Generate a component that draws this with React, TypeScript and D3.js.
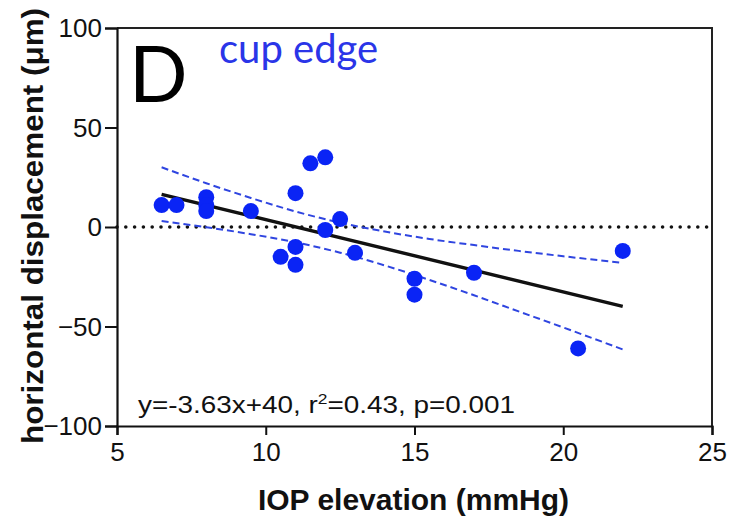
import React, { useEffect, useRef } from "react";
import * as d3 from "d3";

// IOP elevation (mmHg) vs horizontal displacement (µm), cup edge
const iopValues = [6.5, 7, 8, 8, 8, 9.5, 11, 11.5, 12, 12.5, 12, 11, 10.5, 11, 13, 15, 15, 17, 20.5, 22];
const displacementValues = [11, 11, 15, 11, 8, 8, 17, 32, 35, 4, -1.5, -10, -15, -19, -13, -26, -34, -23, -61, -12];

// linear fit, y = slope * x + intercept
const fitSlope = -3.63;
const fitIntercept = 40;
const fitRange = [6.5, 22];

// 95% confidence band
const bandX = [6.5, 8, 9.5, 11, 12.5, 14, 15.5, 17, 18.5, 20, 22];
const bandUpper = [30, 22, 14.6, 7.8, 2.2, -2.3, -6, -9.1, -12, -14.7, -18];
const bandLower = [3, -0.1, -3.6, -7.7, -12.9, -19.3, -26.6, -34.3, -42.4, -50.5, -61.5];

const xTicks = [5, 10, 15, 20, 25];
const yTicks = [-100, -50, 0, 50, 100];

const App = () => {
  const svgRef = useRef<SVGSVGElement>(null);

  useEffect(() => {
    const svg = d3.select(svgRef.current);
    svg.selectAll("*").remove();

    const left = 117;
    const right = 712;
    const top = 28;
    const bottom = 426;
    const blue = "#0a24f5";
    const sans = "'Liberation Sans', Arial, sans-serif";

    const x = d3.scaleLinear().domain([5, 25]).range([left, right]);
    const y = d3.scaleLinear().domain([-100, 100]).range([bottom, top]);

    // frame: top and right borders
    svg.append("path")
      .attr("d", `M${left},${top}H${right}V${bottom}`)
      .attr("fill", "none")
      .attr("stroke", "#222")
      .attr("stroke-width", 2);

    // axes
    const yAxis = svg.append("g")
      .attr("transform", `translate(${left},0)`)
      .call(d3.axisLeft(y).tickValues(yTicks).tickSize(12).tickPadding(3).tickFormat(d3.format("d")));
    const xAxis = svg.append("g")
      .attr("transform", `translate(0,${bottom})`)
      .call(d3.axisBottom(x).tickValues(xTicks).tickSize(9).tickPadding(6).tickFormat(d3.format("d")));
    [yAxis, xAxis].forEach((g) => {
      g.select(".domain").attr("stroke", "#111").attr("stroke-width", 2.2);
      g.selectAll(".tick line").attr("stroke", "#111").attr("stroke-width", 2);
      g.selectAll(".tick text")
        .attr("fill", "#111")
        .style("font-family", sans)
        .style("font-size", "26px");
    });
    yAxis.selectAll(".tick text").attr("dy", "0.34em");
    xAxis.selectAll(".tick text").attr("dy", "0.78em");

    // zero reference line (dotted)
    svg.append("line")
      .attr("x1", left)
      .attr("x2", right)
      .attr("y1", y(0))
      .attr("y2", y(0))
      .attr("stroke", "#111")
      .attr("stroke-width", 3.6)
      .attr("stroke-linecap", "round")
      .attr("stroke-dasharray", "0,8.8");

    // confidence band
    const bandLine = d3.line<number>()
      .x((_, i) => x(bandX[i]))
      .y((d) => y(d))
      .curve(d3.curveMonotoneX);
    [bandUpper, bandLower].forEach((vals) => {
      svg.append("path")
        .attr("d", bandLine(vals))
        .attr("fill", "none")
        .attr("stroke", "#2f45e0")
        .attr("stroke-width", 2)
        .attr("stroke-dasharray", "7,4");
    });

    // regression line
    svg.append("line")
      .attr("x1", x(fitRange[0]))
      .attr("x2", x(fitRange[1]))
      .attr("y1", y(fitSlope * fitRange[0] + fitIntercept))
      .attr("y2", y(fitSlope * fitRange[1] + fitIntercept))
      .attr("stroke", "#111")
      .attr("stroke-width", 3.4);

    // data points
    svg.append("g")
      .selectAll("circle")
      .data(iopValues)
      .enter()
      .append("circle")
      .attr("cx", (d) => x(d))
      .attr("cy", (_, i) => y(displacementValues[i]))
      .attr("r", 8)
      .attr("fill", blue);

    // panel letter and label
    svg.append("text")
      .attr("x", 129)
      .attr("y", 102)
      .style("font-family", "Lato, 'Open Sans', sans-serif")
      .style("font-size", "77px")
      .attr("fill", "#000")
      .text("D");
    svg.append("text")
      .attr("x", 219)
      .attr("y", 63)
      .style("font-family", "Lato, 'Open Sans', sans-serif")
      .style("font-size", "40px")
      .attr("fill", "#2a35e8")
      .text("cup edge");

    // equation
    const eq = svg.append("text")
      .attr("x", 138)
      .attr("y", 413)
      .attr("textLength", 377)
      .attr("lengthAdjust", "spacingAndGlyphs")
      .style("font-family", sans)
      .style("font-size", "24px")
      .attr("fill", "#111");
    eq.append("tspan").text("y=-3.63x+40, r");
    eq.append("tspan").attr("dy", -9).style("font-size", "15px").text("2");
    eq.append("tspan").attr("dy", 9).text("=0.43, p=0.001");

    // axis titles
    svg.append("text")
      .attr("x", (left + right) / 2 - 1)
      .attr("y", 510)
      .attr("text-anchor", "middle")
      .style("font-family", sans)
      .style("font-weight", "bold")
      .style("font-size", "30px")
      .attr("fill", "#111")
      .text("IOP elevation (mmHg)");
    svg.append("text")
      .attr("transform", `translate(43,${226}) rotate(-90)`)
      .attr("text-anchor", "middle")
      .attr("textLength", 436)
      .attr("lengthAdjust", "spacingAndGlyphs")
      .style("font-family", sans)
      .style("font-weight", "bold")
      .style("font-size", "30px")
      .attr("fill", "#111")
      .text("horizontal displacement (\u03bcm)");
  }, []);

  return (
    <svg
      ref={svgRef}
      width={742}
      height={526}
      style={{ position: "absolute", left: 0, top: 0, background: "#fff" }}
    />
  );
};

export default App;
